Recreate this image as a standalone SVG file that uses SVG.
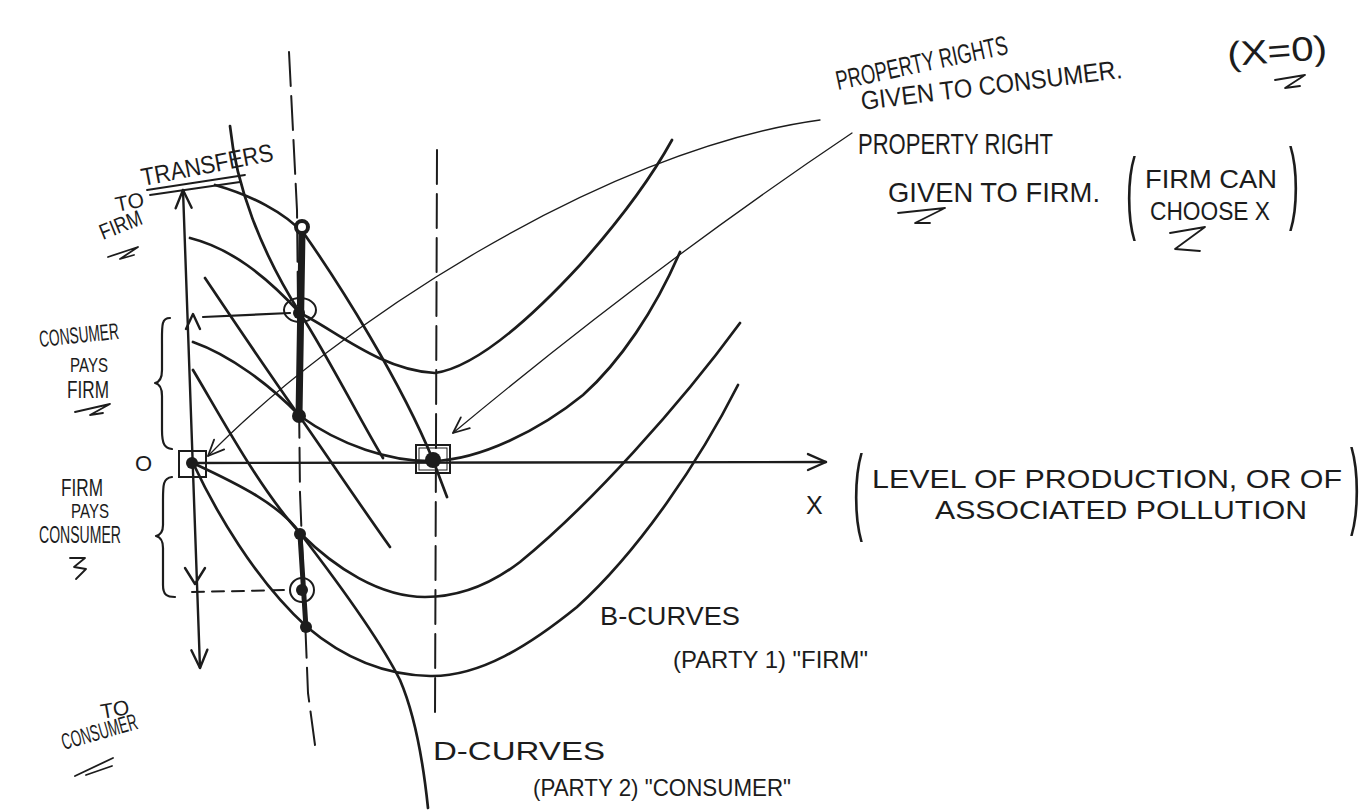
<svg xmlns="http://www.w3.org/2000/svg" width="1369" height="810" viewBox="0 0 1369 810">
<defs>
<style>
.ink{fill:none;stroke:#1c1c1c;stroke-linecap:round;stroke-linejoin:round}
.curve{stroke-width:2.7}
.thin{stroke-width:1.3}
.axis{stroke-width:2.4}
.dash{stroke-width:2;stroke-dasharray:34 10}
.bold{stroke-width:7}
.t{font-family:"Liberation Sans","DejaVu Sans",Arial,sans-serif;fill:#1c1c1c}
.dot{fill:#1c1c1c}
</style>
<marker id="ah" viewBox="0 0 20 20" refX="18" refY="10" markerWidth="20" markerHeight="20" markerUnits="userSpaceOnUse" orient="auto">
<path d="M2,3 L18,10 L2,17" fill="none" stroke="#1c1c1c" stroke-width="1.8" stroke-linecap="round" stroke-linejoin="round"/>
</marker>
<marker id="ax" viewBox="0 0 24 24" refX="22" refY="12" markerWidth="24" markerHeight="24" markerUnits="userSpaceOnUse" orient="auto-start-reverse">
<path d="M4,4 L22,12 L4,20" fill="none" stroke="#1c1c1c" stroke-width="2.4" stroke-linecap="round" stroke-linejoin="round"/>
</marker>
</defs>
<rect width="1369" height="810" fill="#ffffff"/>

<g id="axes">
<path class="ink axis" d="M200,668 L183,190" marker-start="url(#ax)" marker-end="url(#ax)"/>
<path class="ink axis" d="M192,463 L826,462" marker-end="url(#ax)"/>
<path class="ink dash" d="M289,52 L297,210 L300,493 L308,693 L315,745"/>
<path class="ink dash" d="M437,150 L436,440 L435,715"/>
</g>

<g id="b-curves">
<path class="ink curve" d="M190,238 C230,248 265,275 300,313 C335,330 380,370 435,373 C470,368 520,330 580,265 C620,220 650,180 672,140"/>
<path class="ink curve" d="M193,342 C230,355 270,385 300,416 C340,445 390,462 433,461 C480,460 540,430 583,395 C620,362 655,310 680,252"/>
<path class="ink curve" d="M193,370 C220,415 260,490 300,533 C335,568 380,597 425,597 C460,597 490,585 520,562 C590,505 680,405 740,323"/>
<path class="ink curve" d="M193,463 C215,510 255,580 307,627 C340,655 380,675 430,676 C480,677 530,645 577,607 C640,550 700,460 738,385"/>
</g>

<g id="d-curves">
<path class="ink curve" d="M215,185 C250,195 285,212 305,235 C340,285 400,380 433,460 L447,497"/>
<path class="ink curve" d="M230,126 C236,185 260,250 300,313 C330,360 360,420 383,458"/>
<path class="ink curve" d="M205,278 C240,330 270,375 300,417 C330,460 360,505 390,547"/>
<path class="ink curve" d="M195,464 C240,485 280,505 300,533 C340,585 380,640 400,680 C415,715 423,760 428,808"/>
</g>

<g id="contract-segments">
<path class="ink bold" d="M302,232 L299,416"/>
<path class="ink" stroke-width="5" d="M300,535 L306,628"/>
<circle cx="302" cy="227" r="6" fill="#fff" stroke="#1c1c1c" stroke-width="4"/>
<ellipse cx="300" cy="310" rx="16" ry="12" fill="none" stroke="#1c1c1c" stroke-width="2"/>
<circle class="dot" cx="299" cy="313" r="6"/>
<circle class="dot" cx="299" cy="416" r="7"/>
<circle class="dot" cx="300" cy="534" r="6"/>
<circle cx="302" cy="590" r="12" fill="none" stroke="#1c1c1c" stroke-width="2"/>
<circle class="dot" cx="302" cy="590" r="6"/>
<circle class="dot" cx="306" cy="627" r="6"/>
</g>

<g id="origin-box">
<rect x="179" y="451" width="27" height="26" fill="none" stroke="#1c1c1c" stroke-width="2"/>
<circle class="dot" cx="192" cy="463" r="6"/>
</g>
<g id="firm-box">
<rect x="416" y="445" width="34" height="28" fill="none" stroke="#1c1c1c" stroke-width="2"/>
<rect x="419" y="448" width="28" height="22" fill="none" stroke="#1c1c1c" stroke-width="1"/>
<circle class="dot" cx="433" cy="460" r="8"/>
</g>

<g id="transfer-markers">
<path class="ink" stroke-width="2.2" d="M203,317 L290,313"/>
<path class="ink" stroke-width="2.4" d="M186,329 L193,314 L200,329"/>
<path class="ink" stroke-width="2" stroke-dasharray="12 8" d="M192,592 L288,590"/>
<path class="ink" stroke-width="2.4" d="M185,568 L195,584 L205,568"/>
<path class="ink" stroke-width="2.2" d="M170,318 C161,318 162,326 162,345 L162,370 C162,378 160,382 155,383 C160,384 162,388 162,396 L162,430 C162,445 165,448 172,449"/>
<path class="ink" stroke-width="2.2" d="M172,477 C163,478 163,485 163,500 L163,525 C163,532 160,535 156,536 C160,537 163,540 163,548 L163,585 C163,595 167,597 175,597"/>
</g>

<g id="connectors">
<path class="ink thin" d="M820,120 C600,150 330,330 208,456" marker-end="url(#ah)"/>
<path class="ink thin" d="M852,133 Q655,265 453,433" marker-end="url(#ah)"/>
</g>

<g id="left-labels">
<text class="t" x="143" y="186" font-size="25" textLength="134" lengthAdjust="spacingAndGlyphs" transform="rotate(-11 143 186)">TRANSFERS</text>
<path class="ink" stroke-width="1.8" d="M147,190 L245,175 M150,195 L240,182"/>
<text class="t" x="117" y="212" font-size="21" transform="rotate(-12 117 212)">TO</text>
<text class="t" x="103" y="240" font-size="22" textLength="44" lengthAdjust="spacingAndGlyphs" transform="rotate(-22 103 240)">FIRM</text>
<path class="ink" stroke-width="1.8" d="M108,257 L138,247 L120,259 L134,255"/>
<text class="t" x="40" y="347" font-size="23" textLength="80" lengthAdjust="spacingAndGlyphs" transform="rotate(-6 40 347)">CONSUMER</text>
<text class="t" x="70" y="372" font-size="21" textLength="38" lengthAdjust="spacingAndGlyphs">PAYS</text>
<text class="t" x="67" y="398" font-size="23" textLength="42" lengthAdjust="spacingAndGlyphs">FIRM</text>
<path class="ink" stroke-width="1.8" d="M75,412 L110,404 L90,415 L103,413"/>
<text class="t" x="135" y="471" font-size="22">O</text>
<text class="t" x="61" y="496" font-size="23" textLength="42" lengthAdjust="spacingAndGlyphs">FIRM</text>
<text class="t" x="71" y="518" font-size="21" textLength="38" lengthAdjust="spacingAndGlyphs">PAYS</text>
<text class="t" x="39" y="543" font-size="23" textLength="82" lengthAdjust="spacingAndGlyphs">CONSUMER</text>
<path class="ink" stroke-width="1.8" d="M70,558 L85,558 L74,567 L86,569 L76,579"/>
<text class="t" x="102" y="719" font-size="21" transform="rotate(-10 102 719)">TO</text>
<text class="t" x="64" y="750" font-size="23" textLength="78" lengthAdjust="spacingAndGlyphs" transform="rotate(-16 64 750)">CONSUMER</text>
<path class="ink" stroke-width="1.8" d="M75,776 L113,758 M86,775 L112,766"/>
</g>

<g id="right-labels">
<text class="t" x="838" y="90" font-size="27" textLength="175" lengthAdjust="spacingAndGlyphs" transform="rotate(-12 838 90)">PROPERTY RIGHTS</text>
<text class="t" x="862" y="110" font-size="26" textLength="263" lengthAdjust="spacingAndGlyphs" transform="rotate(-7 862 110)">GIVEN TO CONSUMER.</text>
<text class="t" x="1228" y="66" font-size="34" textLength="100" lengthAdjust="spacingAndGlyphs" transform="rotate(-4 1228 66)">(X=0)</text>
<path class="ink" stroke-width="1.8" d="M1275,80 L1305,75 L1285,88 L1300,86"/>
<text class="t" x="858" y="154" font-size="29" textLength="195" lengthAdjust="spacingAndGlyphs">PROPERTY RIGHT</text>
<text class="t" x="888" y="202" font-size="28" textLength="212" lengthAdjust="spacingAndGlyphs">GIVEN TO FIRM.</text>
<path class="ink" stroke-width="1.8" d="M898,213 L945,208 L915,223 L930,223"/>
<text class="t" font-size="50" transform="translate(1126,222) scale(0.6,1.8)">(</text>
<text class="t" x="1145" y="188" font-size="26" textLength="132" lengthAdjust="spacingAndGlyphs">FIRM CAN</text>
<text class="t" x="1150" y="220" font-size="26" textLength="120" lengthAdjust="spacingAndGlyphs">CHOOSE X</text>
<text class="t" font-size="50" transform="translate(1289,212) scale(0.6,1.8)">)</text>
<path class="ink" stroke-width="1.8" d="M1170,233 L1205,227 L1175,249 L1200,251"/>
<text class="t" x="806" y="514" font-size="25">X</text>
<text class="t" font-size="50" transform="translate(853,522) scale(0.6,1.9)">(</text>
<text class="t" x="872" y="488" font-size="25" textLength="470" lengthAdjust="spacingAndGlyphs">LEVEL OF PRODUCTION, OR OF</text>
<text class="t" x="935" y="519" font-size="25" textLength="372" lengthAdjust="spacingAndGlyphs">ASSOCIATED POLLUTION</text>
<text class="t" font-size="50" transform="translate(1350,516) scale(0.6,1.9)">)</text>
<text class="t" x="600" y="625" font-size="26" textLength="140" lengthAdjust="spacingAndGlyphs">B-CURVES</text>
<text class="t" x="673" y="668" font-size="24" textLength="195" lengthAdjust="spacingAndGlyphs">(PARTY 1) "FIRM"</text>
<text class="t" x="433" y="760" font-size="26" textLength="172" lengthAdjust="spacingAndGlyphs">D-CURVES</text>
<text class="t" x="533" y="796" font-size="24" textLength="258" lengthAdjust="spacingAndGlyphs">(PARTY 2) "CONSUMER"</text>
</g>
</svg>
